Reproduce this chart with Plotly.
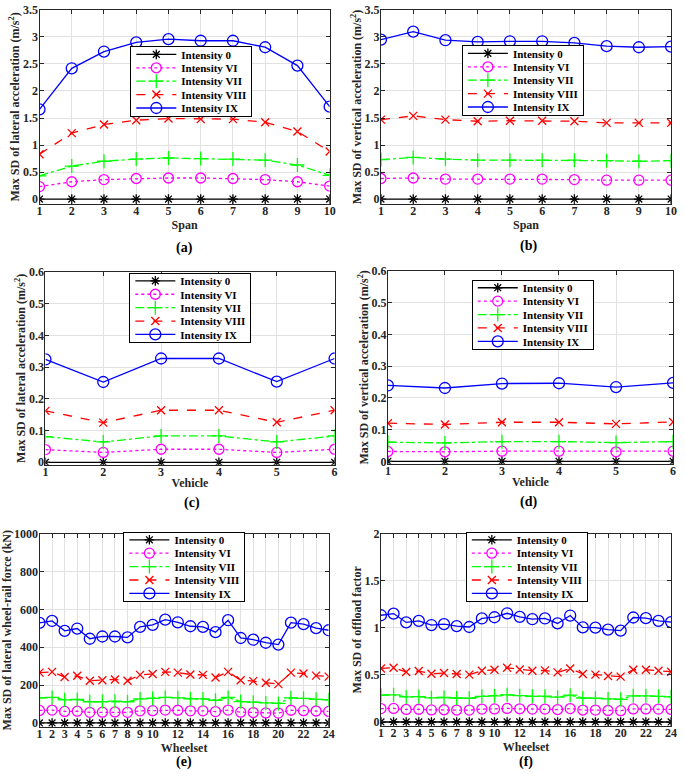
import plotly.graph_objects as go

# ---------------- data ----------------
span = [1, 2, 3, 4, 5, 6, 7, 8, 9, 10]
vehicle = [1, 2, 3, 4, 5, 6]
wheelset = [1, 2, 3, 4, 5, 6, 7, 8, 9, 10, 11, 12, 13, 14, 15, 16, 17, 18, 19, 20, 21, 22, 23, 24]
wheelset_major_ticks = [1, 2, 3, 4, 5, 6, 7, 8, 9, 10, 12, 14, 16, 18, 20, 22, 24]
wheelset_minor_ticks = [11, 13, 15, 17, 19, 21, 23]

series_names = ["Intensity 0", "Intensity VI", "Intensity VII", "Intensity VIII", "Intensity IX"]

# (a) lateral acceleration per span
a_0 = [0, 0, 0, 0, 0, 0, 0, 0, 0, 0]
a_VI = [0.23, 0.32, 0.36, 0.38, 0.39, 0.39, 0.38, 0.36, 0.32, 0.24]
a_VII = [0.43, 0.61, 0.70, 0.74, 0.76, 0.75, 0.74, 0.72, 0.63, 0.44]
a_VIII = [0.83, 1.22, 1.38, 1.46, 1.49, 1.48, 1.48, 1.42, 1.25, 0.88]
a_IX = [1.66, 2.42, 2.73, 2.90, 2.96, 2.93, 2.93, 2.81, 2.47, 1.71]

# (b) vertical acceleration per span
b_0 = [0, 0, 0, 0, 0, 0, 0, 0, 0, 0]
b_VI = [0.38, 0.39, 0.37, 0.37, 0.37, 0.37, 0.36, 0.35, 0.35, 0.35]
b_VII = [0.73, 0.77, 0.74, 0.72, 0.72, 0.72, 0.72, 0.71, 0.70, 0.71]
b_VIII = [1.47, 1.54, 1.47, 1.44, 1.45, 1.45, 1.44, 1.41, 1.41, 1.41]
b_IX = [2.95, 3.10, 2.94, 2.91, 2.92, 2.92, 2.89, 2.83, 2.81, 2.82]

# (c) lateral acceleration per vehicle
c_0 = [0, 0, 0, 0, 0, 0]
c_VI = [0.040, 0.031, 0.041, 0.041, 0.031, 0.041]
c_VII = [0.081, 0.064, 0.083, 0.083, 0.064, 0.083]
c_VIII = [0.162, 0.125, 0.164, 0.164, 0.126, 0.164]
c_IX = [0.324, 0.253, 0.327, 0.327, 0.254, 0.327]

# (d) vertical acceleration per vehicle
d_0 = [0, 0, 0, 0, 0, 0]
d_VI = [0.031, 0.030, 0.032, 0.032, 0.030, 0.032]
d_VII = [0.060, 0.058, 0.062, 0.062, 0.059, 0.062]
d_VIII = [0.120, 0.116, 0.123, 0.123, 0.118, 0.124]
d_IX = [0.239, 0.231, 0.245, 0.246, 0.234, 0.247]

# (e) lateral wheel-rail force per wheelset (kN)
e_0 = [0, 0, 0, 0, 0, 0, 0, 0, 0, 0, 0, 0, 0, 0, 0, 0, 0, 0, 0, 0, 0, 0, 0, 0]
e_VI = [66, 68, 61, 62, 56, 57, 58, 56, 64, 65, 68, 67, 64, 64, 60, 68, 57, 55, 53, 52, 67, 65, 63, 61]
e_VII = [132, 135, 122, 124, 112, 113, 115, 112, 127, 130, 135, 133, 128, 127, 120, 135, 113, 110, 106, 103,
         133, 130, 125, 122]
e_VIII = [266, 270, 243, 249, 223, 226, 230, 223, 254, 259, 270, 266, 256, 254, 240, 270, 226, 221, 212, 205,
          266, 261, 250, 245]
e_IX = [529, 539, 487, 499, 445, 457, 457, 452, 508, 518, 546, 532, 511, 508, 480, 543, 449, 440, 424, 414,
        530, 522, 501, 490]

# (f) offload factor per wheelset
f_0 = [0, 0, 0, 0, 0, 0, 0, 0, 0, 0, 0, 0, 0, 0, 0, 0, 0, 0, 0, 0, 0, 0, 0, 0]
f_VI = [0.142, 0.144, 0.133, 0.135, 0.128, 0.130, 0.127, 0.126, 0.137, 0.139, 0.144, 0.140, 0.137, 0.137,
        0.132, 0.142, 0.127, 0.126, 0.122, 0.120, 0.139, 0.139, 0.137, 0.133]
f_VII = [0.285, 0.288, 0.266, 0.270, 0.257, 0.260, 0.255, 0.252, 0.273, 0.278, 0.288, 0.279, 0.273, 0.274,
         0.264, 0.285, 0.255, 0.252, 0.245, 0.241, 0.278, 0.278, 0.273, 0.267]
f_VIII = [0.569, 0.576, 0.531, 0.541, 0.513, 0.520, 0.510, 0.503, 0.545, 0.555, 0.576, 0.558, 0.545, 0.548,
          0.527, 0.569, 0.510, 0.503, 0.489, 0.482, 0.555, 0.555, 0.545, 0.534]
f_IX = [1.134, 1.152, 1.058, 1.075, 1.030, 1.040, 1.019, 1.009, 1.100, 1.113, 1.155, 1.117, 1.092, 1.100,
        1.047, 1.131, 1.005, 1.002, 0.981, 0.970, 1.110, 1.103, 1.075, 1.061]

# ---------------- styling ----------------
W, H = 685, 778
FONT = "Liberation Serif, Times New Roman, Times, serif"
AX = "#262626"
GRID = "#e2e2e2"

styles = [
    dict(color="#000000", dash="solid", symbol="asterisk-open", size=8),
    dict(color="#ff00ff", dash="dot", symbol="circle-open", size=10),
    dict(color="#00ff00", dash="dashdot", symbol="cross-thin-open", size=10),
    dict(color="#ff0000", dash="dash", symbol="x-thin-open", size=8),
    dict(color="#0000ff", dash="solid", symbol="circle-open", size=11),
]

panels = [
    dict(x=span, ys=[a_0, a_VI, a_VII, a_VIII, a_IX], xt="Span",
         yt="Max SD of lateral acceleration (m/s<sup>2</sup>)", yr=[-0.09, 3.5], dt=0.5,
         box=(37, 331, 3, 200), leg=(129, 40), lab="(a)", labpos=(184, 245)),
    dict(x=span, ys=[b_0, b_VI, b_VII, b_VIII, b_IX], xt="Span",
         yt="Max SD of vertical acceleration (m/s<sup>2</sup>)", yr=[-0.09, 3.5], dt=0.5,
         box=(383, 677, 3, 200), leg=(465, 39), lab="(b)", labpos=(532, 243)),
    dict(x=vehicle, ys=[c_0, c_VI, c_VII, c_VIII, c_IX], xt="Vehicle",
         yt="Max SD of lateral acceleration (m/s<sup>2</sup>)", yr=[-0.008, 0.6], dt=0.1,
         box=(43, 336, 269, 465), leg=(128, 270), lab="(c)", labpos=(192, 504)),
    dict(x=vehicle, ys=[d_0, d_VI, d_VII, d_VIII, d_IX], xt="Vehicle",
         yt="Max SD of vertical acceleration (m/s<sup>2</sup>)", yr=[-0.008, 0.6], dt=0.1,
         box=(390, 679, 268, 464), leg=(475, 277), lab="(d)", labpos=(533, 503)),
    dict(x=wheelset, ys=[e_0, e_VI, e_VII, e_VIII, e_IX], xt="Wheelset",
         yt="Max SD of lateral wheel-rail force (kN)", yr=[-20, 1000], dt=200,
         box=(37, 330, 535, 731), leg=(122, 533), lab="(e)", labpos=(183, 767), wheel=True),
    dict(x=wheelset, ys=[f_0, f_VI, f_VII, f_VIII, f_IX], xt="Wheelset",
         yt="Max SD of offload factor", yr=[-0.04, 2], dt=0.5,
         box=(383, 677, 535, 730), leg=(469, 533), lab="(f)", labpos=(530, 767), wheel=True),
]

fig = go.Figure()
layout = dict(width=W, height=H, margin=dict(l=0, r=0, t=0, b=0), autosize=False,
              paper_bgcolor="white", plot_bgcolor="white", annotations=[],
              font=dict(family=FONT, size=12, color=AX))

tickfont = dict(family=FONT, size=12, color=AX, weight="bold")
titlefont = dict(family=FONT, size=12, color=AX, weight="bold")

for i, p in enumerate(panels):
    n = i + 1
    sfx = "" if n == 1 else str(n)
    xa, ya = "x" + sfx, "y" + sfx
    lg = "legend" + sfx
    x0, x1, y0, y1 = p["box"]
    for name, ys, st in zip(series_names, p["ys"], styles):
        fig.add_trace(go.Scatter(
            x=p["x"], y=ys, name=name, mode="lines+markers",
            xaxis=xa, yaxis=ya, legend=lg,
            line=dict(color=st["color"], dash=st["dash"], width=1.3),
            marker=dict(symbol=st["symbol"], size=st["size"], color=st["color"],
                        line=dict(color=st["color"], width=1.3)),
        ))
    xaxis = dict(domain=[x0 / W, x1 / W], anchor=ya, range=[p["x"][0], p["x"][-1]],
                 showgrid=True, gridcolor=GRID, gridwidth=1, zeroline=False,
                 showline=True, linecolor=AX, linewidth=1, mirror="ticks",
                 ticks="inside", ticklen=4, tickcolor=AX, tickfont=tickfont,
                 ticklabelstandoff=-4,
                 title=dict(text=p["xt"], font=titlefont, standoff=0))
    if p.get("wheel"):
        xaxis.update(tickmode="array", tickvals=wheelset_major_ticks,
                     minor=dict(tickmode="array", tickvals=wheelset_minor_ticks, showgrid=True,
                                gridcolor=GRID, gridwidth=1, ticks="inside", ticklen=4, tickcolor=AX))
    else:
        xaxis.update(tickmode="array", tickvals=p["x"])
    yaxis = dict(domain=[1 - y1 / H, 1 - y0 / H], anchor=xa, range=p["yr"],
                 dtick=p["dt"], tick0=0,
                 showgrid=True, gridcolor=GRID, gridwidth=1, zeroline=False,
                 showline=True, linecolor=AX, linewidth=1, mirror="ticks",
                 ticks="inside", ticklen=4, tickcolor=AX, tickfont=tickfont,
                 ticklabelstandoff=-2,
                 title=dict(text=p["yt"], font=titlefont, standoff=0))
    layout["xaxis" + sfx] = xaxis
    layout["yaxis" + sfx] = yaxis
    lx, ly = p["leg"]
    layout[lg] = dict(x=lx / W, y=1 - ly / H, xanchor="left", yanchor="top",
                      bgcolor="white", bordercolor="#000000", borderwidth=1,
                      font=dict(family=FONT, size=11, color="#000000", weight="bold"),
                      tracegroupgap=0, itemwidth=40)
    lx2, ly2 = p["labpos"]
    layout["annotations"].append(dict(
        text=p["lab"], x=lx2 / W, y=1 - ly2 / H, xref="paper", yref="paper",
        xanchor="center", yanchor="middle", showarrow=False,
        font=dict(family=FONT, size=14, color="#000000", weight="bold")))

fig.update_layout(**layout)

# compact legend rows (MATLAB-style tight legend spacing)
post_js = """
document.body.style.margin='0px';
try {
  var gd = document.getElementById('{plot_id}');
  var groups = gd.querySelectorAll('g.infolayer > g');
  groups.forEach(function(lg){
    var cls = lg.getAttribute('class') || '';
    if (cls.indexOf('legend') !== 0) return;
    var tr = lg.querySelectorAll('g.traces');
    if (!tr.length) return;
    var step = 13.4, top = 8;
    tr.forEach(function(t, i){
      var m = /translate\\(\\s*([-\\d.eE]+)[ ,]+([-\\d.eE]+)\\s*\\)/.exec(t.getAttribute('transform') || '');
      var x = m ? parseFloat(m[1]) : 0;
      t.setAttribute('transform', 'translate(' + x + ',' + (top + i * step) + ')');
    });
    var bg = lg.querySelector('rect.bg');
    if (bg) { bg.setAttribute('height', top * 2 + (tr.length - 1) * step); }
  });
} catch (e) {}
"""
fig.write_html("out.html", config={"staticPlot": True}, post_script=post_js)
